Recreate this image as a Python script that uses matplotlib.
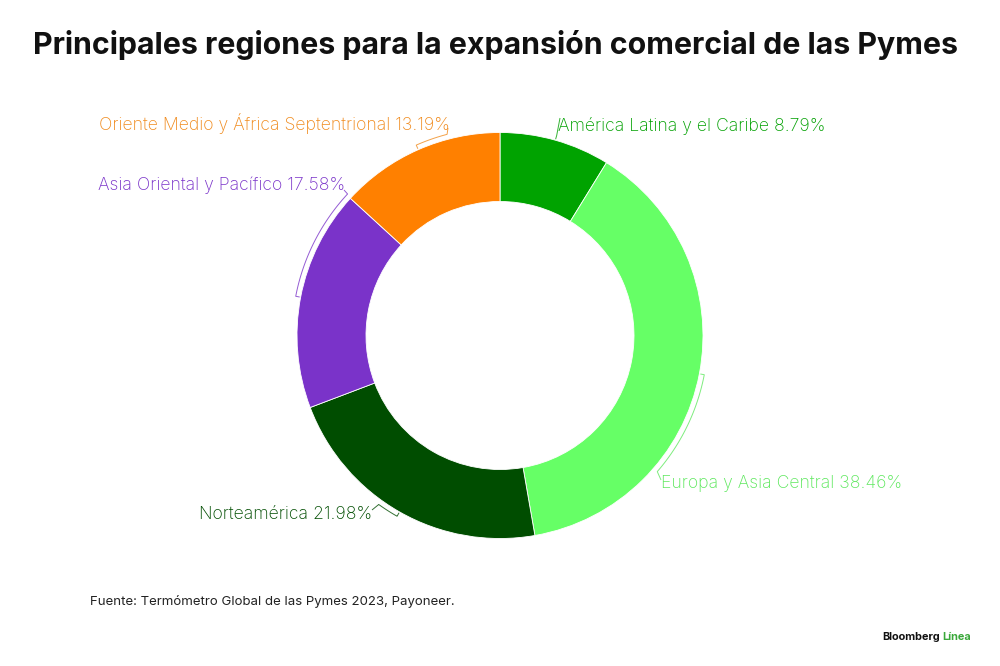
import matplotlib
matplotlib.use("Agg")
import matplotlib.pyplot as plt
import numpy as np

# data
regions = ["América Latina y el Caribe", "Europa y Asia Central", "Norteamérica",
           "Asia Oriental y Pacífico", "Oriente Medio y África Septentrional"]
shares = [8.79, 38.46, 21.98, 17.58, 13.19]
colors = ["#00a300", "#66ff66", "#004d00", "#7a33c9", "#ff8000"]
label_colors = ["#00a000", "#5ee85e", "#004d00", "#7a33c9", "#f08a1c"]

title = "Principales regiones para la expansión comercial de las Pymes"
source = "Fuente: Termómetro Global de las Pymes 2023, Payoneer."

H = 666


def Y(y):
    # image rows -> axes coords (y up)
    return H - y


fig = plt.figure(figsize=(10, 6.66), dpi=100)
ax = fig.add_axes([0, 0, 1, 1])

cx, cy = 500, Y(335.5)
R, W = 203, 69
wedges, _ = ax.pie(shares, colors=colors, startangle=90, counterclock=False,
                   radius=R, center=(cx, cy),
                   wedgeprops=dict(width=W, edgecolor="white", linewidth=0.6))
ax.set_xlim(0, 1000)
ax.set_ylim(0, H)
ax.axis("off")

# label layout: anchor point, alignment, bracket span (deg, clockwise), leader end
layout = [
    dict(xy=(558, 126), ha="left", span=0, end=(560, 118)),
    dict(xy=(661, 484), ha="left", span=30, end=(661, 480)),
    dict(xy=(372, 514), ha="right", span=6, end=(372, 510)),
    dict(xy=(345, 185), ha="right", span=32, end=(344, 190)),
    dict(xy=(450, 124), ha="right", span=9, end=(448, 128)),
]

rb = R + 5
texts = []
for w, name, val, lc, lay in zip(wedges, regions, shares, label_colors, layout):
    mid = np.deg2rad((w.theta1 + w.theta2) / 2)
    ang = np.linspace(mid, mid - np.deg2rad(lay["span"]), 40)
    xs = [cx + (R + 1) * np.cos(mid)] + list(cx + rb * np.cos(ang))
    ys = [cy + (R + 1) * np.sin(mid)] + list(cy + rb * np.sin(ang))
    xs.append(lay["end"][0])
    ys.append(Y(lay["end"][1]))
    ax.plot(xs, ys, color=lc, lw=0.7, alpha=0.8, solid_capstyle="butt")
    t = ax.text(lay["xy"][0], Y(lay["xy"][1]), f"{name} {val:.2f}%", color=lc,
                ha=lay["ha"], va="center", fontsize=13, family="Inter",
                fontweight="light")
    texts.append(t)

ttl = ax.text(33, Y(45), title, ha="left", va="center", fontsize=24,
              family="Inter", fontweight="bold", color="#111111")
src = ax.text(90, Y(602), source, ha="left", va="center", fontsize=9.5,
              family="Inter", color="#222222")
b1 = ax.text(882, Y(637), "Bloomberg", ha="left", va="center", fontsize=8,
             family="Inter", fontweight="bold", color="#111111")

# scale text so widths match the reference
renderer = fig.canvas.get_renderer()


def fit(t, width):
    bb = t.get_window_extent(renderer)
    t.set_fontsize(t.get_fontsize() * width / bb.width)


fit(ttl, 929)
fit(src, 365)
fit(texts[4], 352)
for t in texts[:4]:
    t.set_fontsize(texts[4].get_fontsize())
fit(b1, 59)
bx = b1.get_window_extent(renderer).x1 + 3
ax.text(bx, Y(637), "Línea", ha="left", va="center", fontsize=b1.get_fontsize(),
        family="Inter", fontweight="bold", color="#3aa83a")

fig.savefig("out.png", dpi=100, facecolor="white")
